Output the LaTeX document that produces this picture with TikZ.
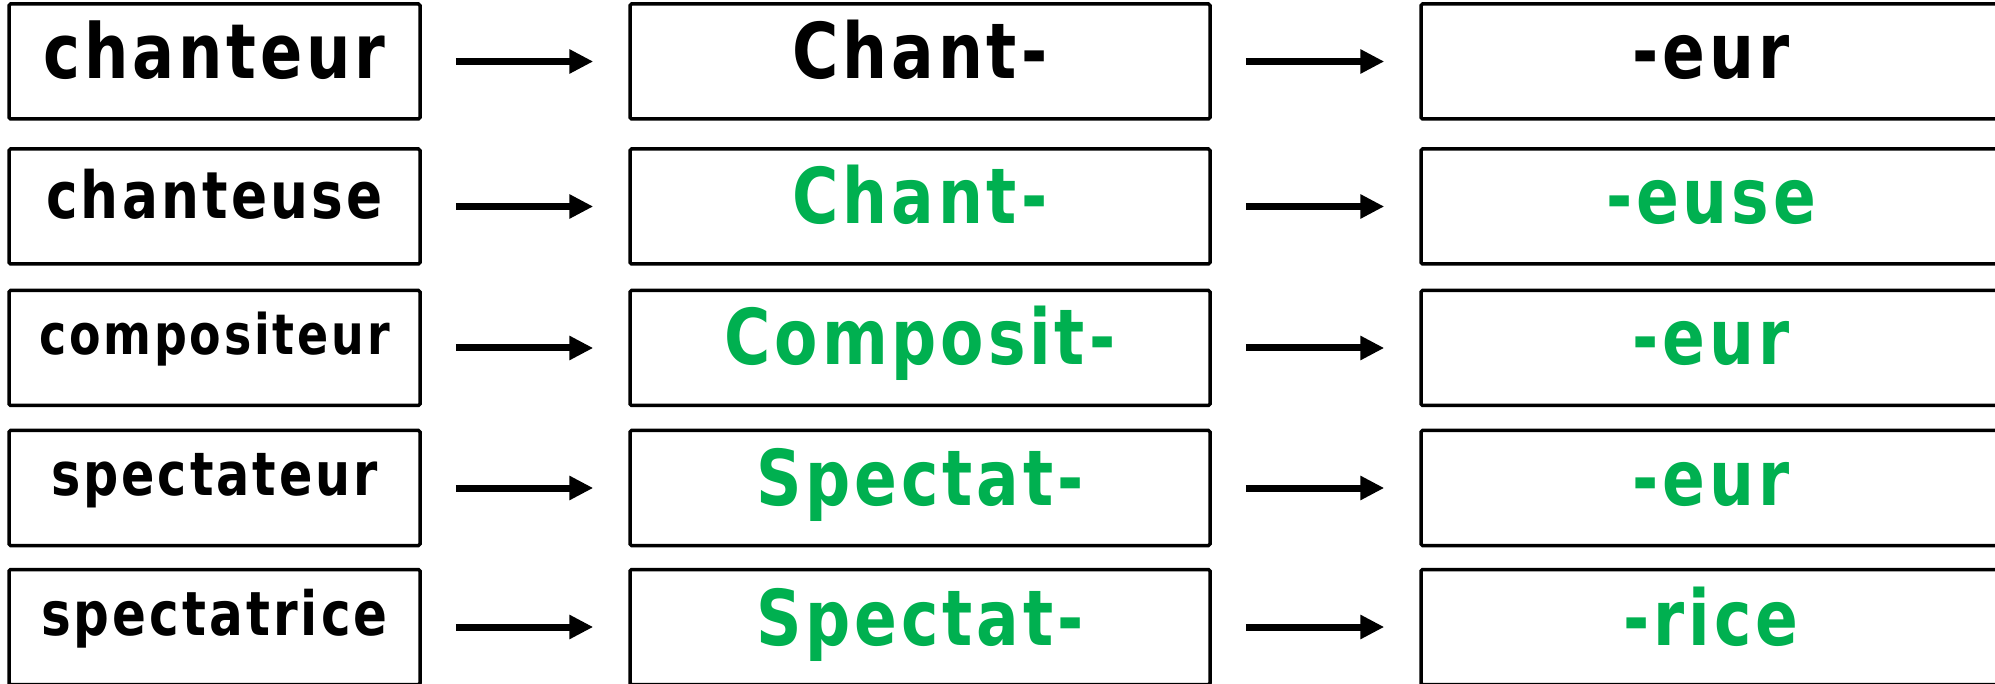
\documentclass[tikz,border=0pt]{standalone}
\usepackage{fontspec}
\newfontfamily\wordfont{DejaVu Sans}[FakeStretch=0.82,LetterSpace=5]
\usetikzlibrary{arrows.meta}
\definecolor{segreen}{HTML}{00B050}
\begin{document}
\begin{tikzpicture}[x=1pt,y=-1pt,
  box/.style={draw=black, line width=3.5pt, rounded corners=1.5pt, minimum height=115pt, inner sep=0pt},
  colA/.style={box, minimum width=411pt},
  colB/.style={box, minimum width=580pt},
  wd/.style={anchor=base, inner sep=0pt, font=\wordfont\bfseries\fontsize{#1}{#1}\selectfont},
  conn/.style={line width=7pt, -{Triangle[length=24pt,width=23pt]}, shorten <=34pt, shorten >=35pt}]
\useasboundingbox (0,0) rectangle (1995,684);
% boxes
\foreach \r/\y in {1/61.5,2/206.5,3/348,4/488,5/627}{
  \node[colA] (a\r) at (214.5,\y) {};
  \node[colB] (b\r) at (920,\y) {};
  \node[colB] (c\r) at (1711,\y) {};
}
% column 1
\node[wd=76] (ta1) at (214.5,79) {chanteur};
\node[wd=65] (ta2) at (214.5,219) {chanteuse};
\node[wd=56] (ta3) at (214.5,355) {compositeur};
\node[wd=60] (ta4) at (214.5,495) {spectateur};
\node[wd=61] (ta5) at (214.5,635) {spectatrice};
% column 2
\node[wd=77] (tb1) at (920,79) {Chant-};
\node[wd=77,text=segreen] (tb2) at (920,224) {Chant-};
\node[wd=77,text=segreen] (tb3) at (920,365) {Composit-};
\node[wd=77,text=segreen] (tb4) at (920,505) {Spectat-};
\node[wd=77,text=segreen] (tb5) at (920,645) {Spectat-};
% column 3
\node[wd=77] (tc1) at (1711,79) {-eur};
\node[wd=77,text=segreen] (tc2) at (1711,224) {-euse};
\node[wd=77,text=segreen] (tc3) at (1711,365) {-eur};
\node[wd=77,text=segreen] (tc4) at (1711,505) {-eur};
\node[wd=77,text=segreen] (tc5) at (1711,645) {-rice};
% connectors
\foreach \r in {1,...,5}{
  \draw[conn] (a\r) -- (b\r);
  \draw[conn] (b\r) -- (c\r);
}
\end{tikzpicture}
\end{document}
